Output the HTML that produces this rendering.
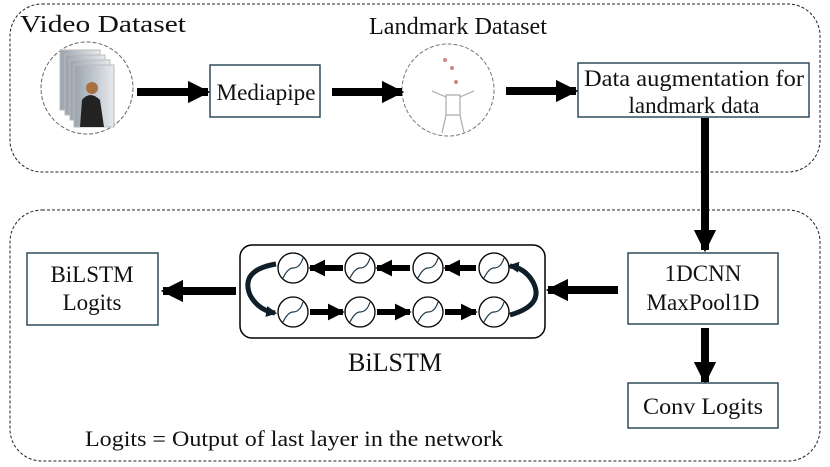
<!DOCTYPE html>
<html><head><style>body{margin:0;background:#fff}svg{display:block}text{font-family:"Liberation Serif",serif;fill:#111}</style></head><body>
<svg width="830" height="467" viewBox="0 0 830 467" xmlns="http://www.w3.org/2000/svg">
<defs>
<marker id="ah" viewBox="0 0 10 10" refX="9" refY="5" markerWidth="2.8" markerHeight="2.8" orient="auto"><path d="M0,0L10,5L0,10z" fill="#000"/></marker>
<marker id="ah2" viewBox="0 0 10 10" refX="8" refY="5" markerWidth="2.2" markerHeight="2.2" orient="auto"><path d="M0,0L10,5L0,10z" fill="#0f1f2a"/></marker>
<linearGradient id="g" x1="0" x2="1"><stop offset="0" stop-color="#9aa3ad"/><stop offset="1" stop-color="#e6eaee"/></linearGradient>
</defs>
<rect x="10" y="4" width="810" height="168" rx="32" fill="none" stroke="#222" stroke-dasharray="3,2"/>
<rect x="10" y="210" width="810" height="251" rx="32" fill="none" stroke="#222" stroke-dasharray="3,2"/>
<text x="20" y="32" font-size="24" textLength="166" lengthAdjust="spacingAndGlyphs">Video Dataset</text>
<text x="369" y="34" font-size="24" textLength="178" lengthAdjust="spacingAndGlyphs">Landmark Dataset</text>
<circle cx="87" cy="88" r="46" fill="none" stroke="#666" stroke-dasharray="4,2"/>
<rect x="60" y="50" width="40" height="60" fill="url(#g)" stroke="#bbb"/>
<rect x="65" y="55" width="40" height="60" fill="url(#g)" stroke="#bbb"/>
<rect x="70" y="60" width="40" height="60" fill="url(#g)" stroke="#bbb"/>
<rect x="74" y="65" width="40" height="62" fill="url(#g)" stroke="#bbb"/>
<path d="M80,127 L82,100 Q90,90 100,100 L104,127z" fill="#222"/><circle cx="92" cy="88" r="6" fill="#a87040"/>
<circle cx="448" cy="90" r="46" fill="none" stroke="#777" stroke-dasharray="4,2"/>
<g stroke="#aaa" fill="none" stroke-width="1.2"><path d="M460,95 v20 h-14 v-20z M446,115 l-4,18 M460,115 l4,18 M446,97 l-14,-6 M460,97 l14,-6"/></g>
<g fill="#c88"><circle cx="445" cy="60" r="2"/><circle cx="452" cy="68" r="2"/><circle cx="456" cy="82" r="2"/></g>
<rect x="210" y="65" width="110" height="52" fill="#fff" stroke="#2f4b5a" stroke-width="1.5"/>
<text x="266" y="100" font-size="23" text-anchor="middle" textLength="99" lengthAdjust="spacingAndGlyphs">Mediapipe</text>
<rect x="578" y="63" width="231" height="54" fill="#fff" stroke="#2f4b5a" stroke-width="1.5"/>
<text x="694" y="86" font-size="23" text-anchor="middle" textLength="220" lengthAdjust="spacingAndGlyphs">Data augmentation for</text>
<text x="694" y="113" font-size="23" text-anchor="middle">landmark data</text>
<g stroke="#000" stroke-width="8" marker-end="url(#ah)">
<line x1="137" y1="92" x2="208" y2="92"/>
<line x1="332" y1="92" x2="402" y2="92"/>
<line x1="506" y1="91" x2="576" y2="91"/>
<line x1="705" y1="118" x2="705" y2="250"/>
<line x1="705" y1="328" x2="705" y2="382"/>
<line x1="618" y1="290" x2="548" y2="290"/>
<line x1="236" y1="291" x2="163" y2="291"/>
</g>
<rect x="628" y="253" width="150" height="71" fill="#fff" stroke="#2f4b5a" stroke-width="1.5"/>
<text x="703" y="281" font-size="23" text-anchor="middle">1DCNN</text>
<text x="703" y="310" font-size="23" text-anchor="middle" textLength="113" lengthAdjust="spacingAndGlyphs">MaxPool1D</text>
<rect x="628" y="383" width="150" height="45" fill="#fff" stroke="#2f4b5a" stroke-width="1.5"/>
<text x="703" y="414" font-size="23" text-anchor="middle" textLength="120" lengthAdjust="spacingAndGlyphs">Conv Logits</text>
<rect x="27" y="253" width="131" height="72" fill="#fff" stroke="#2f4b5a" stroke-width="1.5"/>
<text x="92" y="282" font-size="23" text-anchor="middle">BiLSTM</text>
<text x="92" y="310" font-size="23" text-anchor="middle">Logits</text>
<rect x="240" y="245" width="305" height="93" rx="12" fill="#fff" stroke="#000" stroke-width="1.5"/>
<g stroke="#000" stroke-width="6" marker-end="url(#ah)">
<line x1="476" y1="268" x2="445" y2="268"/><line x1="410" y1="268" x2="377" y2="268"/><line x1="343" y1="268" x2="310" y2="268"/>
<line x1="310" y1="312" x2="343" y2="312"/><line x1="377" y1="312" x2="410" y2="312"/><line x1="445" y1="312" x2="476" y2="312"/>
</g>
<g stroke="#0f1f2a" stroke-width="5" fill="none" marker-end="url(#ah2)">
<path d="M276,264 Q240,270 250,295 Q258,310 275,313"/>
<path d="M510,315 Q545,305 533,282 Q525,268 510,266"/>
</g>
<g fill="#fff" stroke="#000" stroke-width="1.3">
<circle cx="293" cy="268" r="15"/><circle cx="360" cy="268" r="15"/><circle cx="428" cy="268" r="15"/><circle cx="494" cy="268" r="15"/>
<circle cx="293" cy="312" r="15"/><circle cx="360" cy="312" r="15"/><circle cx="428" cy="312" r="15"/><circle cx="494" cy="312" r="15"/>
</g>
<g stroke="#1f3b4d" stroke-width="1.2" fill="none">
<path d="M283,278 Q288,268 293,268 Q300,268 303,258"/><path d="M350,278 Q355,268 360,268 Q367,268 370,258"/><path d="M418,278 Q423,268 428,268 Q435,268 438,258"/><path d="M484,278 Q489,268 494,268 Q501,268 504,258"/>
<path d="M283,322 Q288,312 293,312 Q300,312 303,302"/><path d="M350,322 Q355,312 360,312 Q367,312 370,302"/><path d="M418,322 Q423,312 428,312 Q435,312 438,302"/><path d="M484,322 Q489,312 494,312 Q501,312 504,302"/>
</g>
<text x="395" y="371" font-size="26" text-anchor="middle" textLength="94" lengthAdjust="spacingAndGlyphs">BiLSTM</text>
<text x="85" y="446" font-size="22" textLength="418" lengthAdjust="spacingAndGlyphs">Logits = Output of last layer in the network</text>
</svg>
</body></html>
